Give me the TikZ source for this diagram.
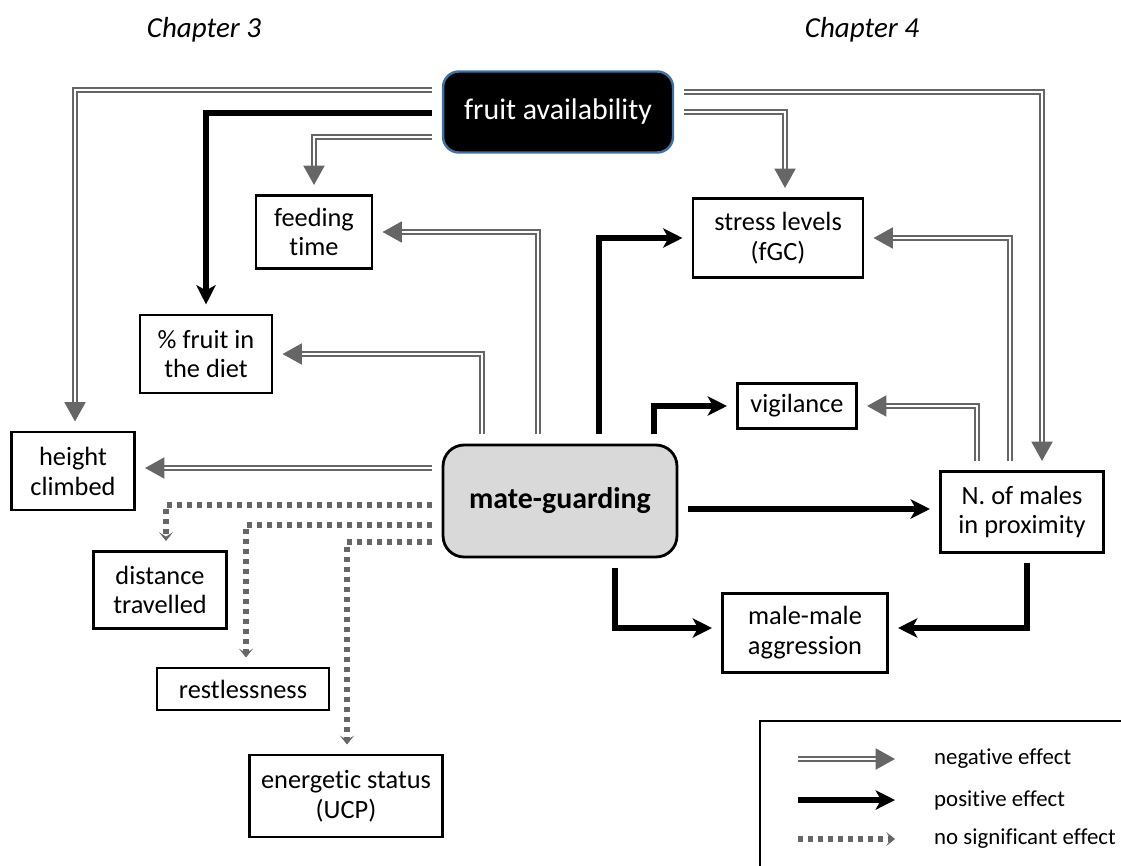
\documentclass[tikz,border=0pt]{standalone}
\usepackage{fontspec}
\setmainfont{Carlito}[Ligatures=NoCommon]
\usepackage{xcolor}
\usetikzlibrary{arrows.meta}
\definecolor{effectgray}{HTML}{666666}
\definecolor{mategray}{HTML}{D9D9D9}
\definecolor{fruitblue}{HTML}{41719C}
\tikzstyle{effect box}=[
        draw = black,
        line width = 1.6pt,
        fill = white,
        align = center,
        inner sep = 1pt,
        outer sep = 6pt,
        font = \fontsize{15}{17}\selectfont
    ]
\tikzstyle{main box}=[
    draw = black,
    line width = 1.6pt,
    fill = mategray,
    rounded corners = 12pt,
    outer sep = 6pt,
    font = \fontsize{17}{20}\selectfont\bfseries
]
\tikzstyle{source box}=[
    draw = fruitblue,
    line width = 1.4pt,
    fill = black,
    text = white,
    rounded corners = 9pt,
    outer sep = 6pt,
    font = \fontsize{17}{20}\selectfont
]

\begin{document}
\begin{tikzpicture}[x=0.02cm, y=-0.02cm,
        neg effect/.style = {draw=effectgray, double=white, line width=0.9pt, double distance=1.3pt, -{Triangle[length=11pt, width=12pt]}},
        pos effect/.style = {draw=black, line width=3.2pt, -{Stealth[length=11pt, width=11pt, inset=3pt]}},
        no effect/.style = {draw=effectgray, line width=3pt, dash pattern=on 3pt off 2.7pt, -{Stealth[length=5pt, width=8pt, inset=2.5pt]}},
        legend/.style = {anchor=west, font=\fontsize{13}{15}\selectfont}]
        \useasboundingbox (0,0) rectangle (1121,865);

        \node[font=\fontsize{16.5}{19}\selectfont\itshape] (ch3) at (204,30) {Chapter 3};
        \node[font=\fontsize{16.5}{19}\selectfont\itshape] (ch4) at (862,30) {Chapter 4};

        \node[source box, minimum width=4.6cm, minimum height=1.62cm] (fruit) at (558,112) {fruit availability};
        \node[main box, minimum width=4.68cm, minimum height=2.24cm] (mate) at (560,501) {mate-guarding};

        \node[effect box, minimum width=2.32cm, minimum height=1.46cm] (feeding) at (314,232) {feeding\\time};
        \node[effect box, minimum width=2.64cm, minimum height=1.56cm] (pfruit) at (206,354) {\% fruit in\\the diet};
        \node[effect box, minimum width=2.46cm, minimum height=1.56cm] (height) at (73,471) {height\\climbed};
        \node[effect box, minimum width=2.66cm, minimum height=1.54cm] (distance) at (160,590) {distance\\travelled};
        \node[effect box, minimum width=3.44cm, minimum height=0.84cm] (restless) at (243,689) {restlessness};
        \node[effect box, minimum width=3.86cm, minimum height=1.64cm] (energetic) at (346,796) {energetic status\\(UCP)};
        \node[effect box, minimum width=3.4cm, minimum height=1.58cm] (stress) at (778,238) {stress levels\\(fGC)};
        \node[effect box, minimum width=2.38cm, minimum height=0.9cm] (vigilance) at (797,406) {vigilance};
        \node[effect box, minimum width=3.26cm, minimum height=1.62cm] (nmales) at (1022,512) {N. of males\\in proximity};
        \node[effect box, minimum width=3.3cm, minimum height=1.58cm] (aggression) at (805,633) {male-male\\aggression};

        \draw[neg effect] (fruit.west |- 0,90) -| (75,0 |- height.north);
        \draw[neg effect] (fruit.west |- 0,137) -| (feeding.north);
        \draw[pos effect] (fruit.west |- 0,113) -| (pfruit.north);
        \draw[neg effect] (fruit.east |- 0,92) -| (1042,0 |- nmales.north);
        \draw[neg effect] (fruit.east |- 0,112) -| (785,0 |- stress.north);

        \draw[neg effect] (538,0 |- mate.north) |- (feeding.east);
        \draw[neg effect] (482,0 |- mate.north) |- (pfruit.east);
        \draw[neg effect] (mate.west |- 0,468) -- (height.east |- 0,468);
        \draw[pos effect] (599,0 |- mate.north) |- (stress.west);
        \draw[pos effect] (654,0 |- mate.north) |- (vigilance.west);
        \draw[pos effect] (mate.east |- 0,509) -- (nmales.west |- 0,509);
        \draw[pos effect] (615,0 |- mate.south) |- (aggression.west |- 0,628);
        \draw[pos effect] (1027,0 |- nmales.south) |- (aggression.east |- 0,628);

        \draw[no effect] (mate.west |- 0,505) -| (166,0 |- distance.north);
        \draw[no effect] (mate.west |- 0,525) -| (246,0 |- restless.north);
        \draw[no effect] (mate.west |- 0,542) -| (347,0 |- energetic.north);

        \draw[neg effect] (977,0 |- nmales.north) |- (vigilance.east);
        \draw[neg effect] (1010,0 |- nmales.north) |- (stress.east);

        \draw[line width=1.6pt] (1125,721) -| (760,870);
        \coordinate (neg a) at (798,759);
        \coordinate (neg b) at (895,759);
        \coordinate (pos a) at (798,800);
        \coordinate (pos b) at (895,800);
        \coordinate (none a) at (798,839);
        \coordinate (none b) at (895,839);
        \draw[neg effect] (neg a) -- (neg b);
        \draw[pos effect] (pos a) -- (pos b);
        \draw[no effect] (none a) -- (none b);
        \node[legend] (neg text) at (928,759) {negative effect};
        \node[legend] (pos text) at (928,800) {positive effect};
        \node[legend] (none text) at (928,839) {no significant effect};

    \end{tikzpicture}
\end{document}
